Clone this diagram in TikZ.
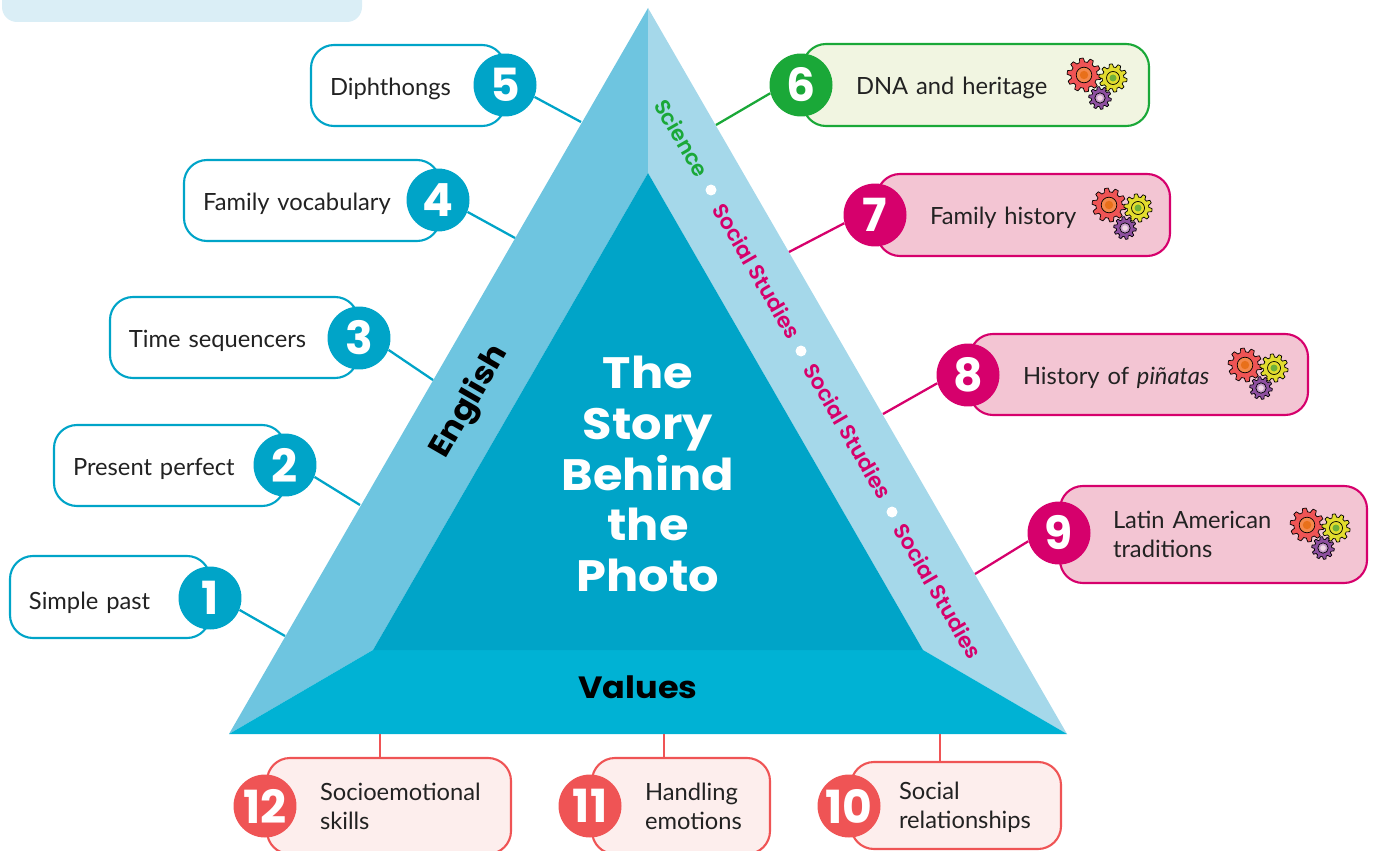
\documentclass[tikz,border=0pt]{standalone}
\usepackage{fontspec}
\setmainfont{Lato}
\newfontfamily\headfont[FakeStretch=1.09]{Poppins}
\newfontfamily\numfont{Poppins}
\newfontfamily\subjectfont{Poppins SemiBold}
\definecolor{bandblue}{HTML}{DAEEF6}
\definecolor{panelleft}{HTML}{6EC5E0}
\definecolor{panelright}{HTML}{A5D8EA}
\definecolor{panelbottom}{HTML}{00B2D4}
\definecolor{panelmiddle}{HTML}{00A4C8}
\definecolor{tealline}{HTML}{00A4C8}
\definecolor{greenline}{HTML}{1AA838}
\definecolor{greenfill}{HTML}{F1F5E1}
\definecolor{pinkline}{HTML}{D6006C}
\definecolor{pinkfill}{HTML}{F3C5D3}
\definecolor{redline}{HTML}{EF5455}
\definecolor{redfill}{HTML}{FDEEED}
\definecolor{textdark}{HTML}{222222}
\definecolor{gearring}{HTML}{F4894B}
\definecolor{gearcore}{HTML}{E8701A}
\definecolor{gearyellow}{HTML}{E2DC2E}
\definecolor{geargreen}{HTML}{6FB03A}
\definecolor{gearpurple}{HTML}{8D4F9F}
\definecolor{gearlilac}{HTML}{C79BCB}
\definecolor{gearpale}{HTML}{F0D6E4}
\tikzset{
    tagbox/.style={draw=#1, line width=1.2pt, rounded corners=0.46cm, inner ysep=0pt,
        align=left, text=textdark, font=\fontsize{13.5}{16.4}\selectfont},
    badge/.style={circle, fill=#1, text=white, minimum size=1.26cm, inner sep=0pt,
        font=\numfont\bfseries\fontsize{26}{26}\selectfont},
    link/.style={draw=#1, line width=1.3pt},
    subject/.style={text=#1, font=\subjectfont\fontsize{12.2}{14}\selectfont, inner sep=0pt},
    title/.style={text=white, font=\headfont\bfseries\fontsize{25}{28.9}\selectfont, align=center},
    side/.style={text=black, font=\headfont\bfseries\fontsize{17.5}{20}\selectfont, inner sep=0pt},
    whitedot/.style={circle, fill=white, inner sep=0pt, minimum size=0.22cm},
    pics/gear/.style n args={4}{code={
        \draw[fill=#2, line width=0.4pt] plot[domain=0:360, samples=121]
            (\x:{#1*(1+0.13*max(-1,min(1,3*sin(10*\x))))}) -- cycle;
        \draw[fill=#3, line width=0.4pt] (0,0) circle ({#1*0.52});
        \fill[#4] (0,0) circle ({#1*0.28});
    }},
    pics/gears/.style={code={
        \pic at (0,0) {gear={15}{redline}{gearring}{gearcore}};
        \pic at (29,3) {gear={12.5}{gearyellow}{gearyellow}{geargreen}};
        \pic at (16,23) {gear={10}{gearpurple}{gearlilac}{gearpale}};
    }},
}
\begin{document}
    \begin{tikzpicture}[x=0.02cm, y=-0.02cm]
        \path[use as bounding box, clip] (0,0) rectangle (1375,851);

        \fill[bandblue, rounded corners=0.3cm] (2,-30) rectangle (362,22);

        \fill[panelleft]   (648,8) -- (229,734) -- (373,650) -- (648,173) -- cycle;
        \fill[panelright]  (648,8) -- (1067,734) -- (923,650) -- (648,173) -- cycle;
        \fill[panelbottom] (229,734) -- (1067,734) -- (923,650) -- (373,650) -- cycle;
        \fill[panelmiddle] (648,173) -- (923,650) -- (373,650) -- cycle;

        \node[title] (title) at (648,474) {The\\Story\\Behind\\the\\Photo};
        \node[side, rotate=60] (english) at (470,402) {English};
        \node[side] (values) at (638,687) {Values};

        \node[subject=greenline, rotate=-60] (science) at (682,138) {Science};
        \foreach \i/\x/\y in {1/757/271, 2/848/431, 3/938/591}
        {
            \node[subject=pinkline, rotate=-60] (social\i) at (\x,\y) {Social Studies};
        }
        \foreach \i/\x/\y in {1/711/190, 2/801/351, 3/892/512}
        {
            \node[whitedot] (dot\i) at (\x,\y) {};
        }

        \foreach \i/\xa/\ya/\xb/\yb/\pad/\gap/\col/\bg/\txt in {
            1/10/556/210/638/19/16.3/tealline/white/{Simple past},
            2/54/425/285/506/19/13.5/tealline/white/{Present perfect},
            3/110/297/358/378/19/13.5/tealline/white/{Time sequencers},
            4/184/160/440/241/19/13.5/tealline/white/{Family vocabulary},
            5/311/45/505/126/19/13.5/tealline/white/{Diphthongs},
            6/803/44/1149/126/53/13.5/greenline/greenfill/{DNA and heritage},
            7/877/174/1170/256/53/13.5/pinkline/pinkfill/{Family history},
            8/970/334/1308/415/53/13.5/pinkline/pinkfill/{History of \textit{piñatas}},
            9/1060/486/1367/583/53/0/pinkline/pinkfill/{Latin American\\traditions},
            10/851/762/1061/849/48/12.3/redline/redfill/{Social\\relationships},
            11/592/758/770/854/53/0/redline/redfill/{Handling\\emotions},
            12/267/758/511/854/53/0/redline/redfill/{Socioemotional\\skills}}
        {
            \pgfmathsetmacro{\boxw}{(\xb-\xa)*0.02}
            \pgfmathsetmacro{\boxh}{(\yb-\ya)*0.02}
            \pgfmathsetmacro{\sepw}{\pad*0.02}
            \pgfmathsetmacro{\textw}{(\xb-\xa-2*\pad)*0.02}
            \node[tagbox=\col, fill=\bg, inner xsep=\sepw cm, text width=\textw cm,
                minimum width=\boxw cm, minimum height=\boxh cm] (box\i)
                at ({(\xa+\xb)/2},{(\ya+\yb)/2}) {\rule{0pt}{\gap pt}\txt};
        }

        \foreach \i/\x/\y/\col in {
            1/210/598/tealline, 2/285/465/tealline, 3/359/338/tealline,
            4/438/200/tealline, 5/505/85/tealline, 6/801/85/greenline,
            7/875/215/pinkline, 8/968/375/pinkline, 9/1059/533/pinkline,
            10/849/806/redline, 11/590/806/redline, 12/265/806/redline}
        {
            \node[badge=\col] (num\i) at (\x,\y) {\i};
        }

        \foreach \i/\x/\y in {1/285/636, 2/360/505, 3/433/380, 4/515/238, 5/581/122}
        {
            \coordinate (edge\i) at (\x,\y);
            \draw[link=tealline] (num\i.-22) -- (edge\i);
        }
        \foreach \i/\x/\y/\col in {6/716/125/greenline, 7/789/252/pinkline,
            8/883/414/pinkline, 9/975/574/pinkline}
        {
            \coordinate (edge\i) at (\x,\y);
            \draw[link=\col] (num\i.195) -- (edge\i);
        }
        \foreach \i/\x in {10/940, 11/664, 12/380}
        {
            \coordinate (edge\i) at (\x,734);
            \draw[link=redline] (edge\i) -- (edge\i |- box\i.north);
        }

        \foreach \x/\y in {1084/75, 1109/205, 1245/365, 1307/525}
        {
            \pic at (\x,\y) {gears};
        }
    \end{tikzpicture}
\end{document}
